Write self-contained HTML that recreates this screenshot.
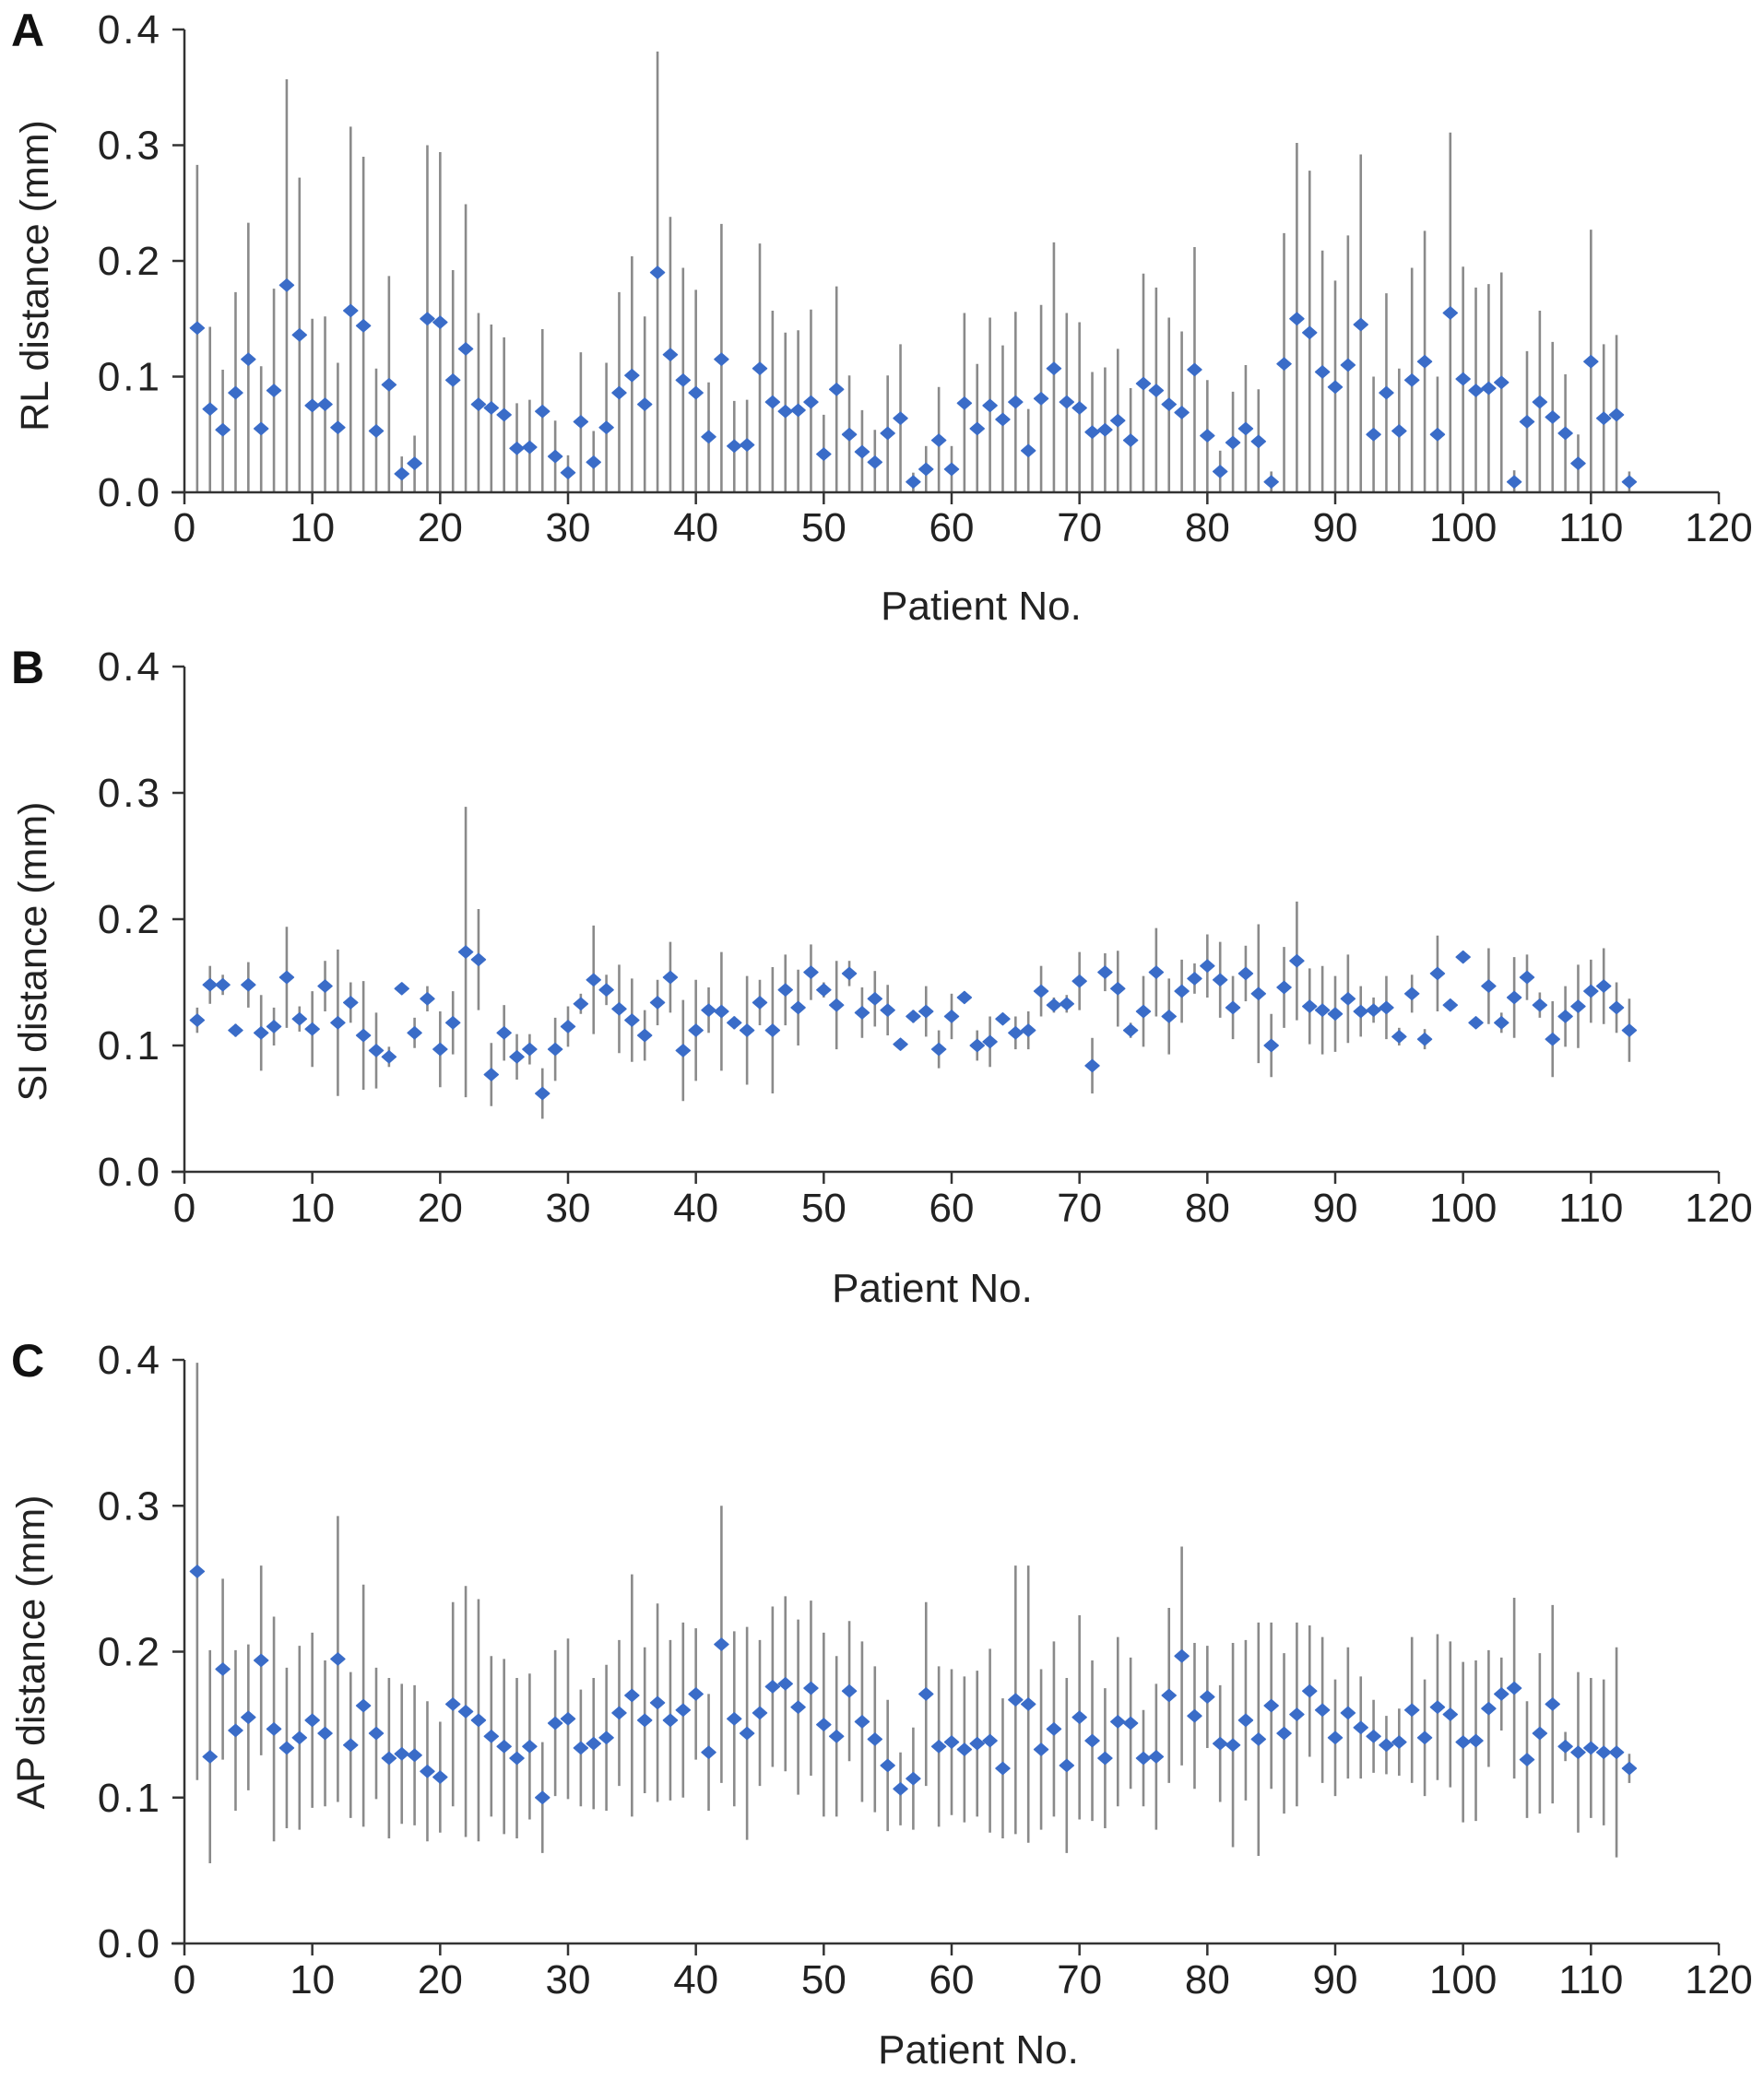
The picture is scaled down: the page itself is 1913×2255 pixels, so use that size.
<!DOCTYPE html>
<html><head><meta charset="utf-8"><style>
html,body{margin:0;padding:0;background:#fff;}
svg{display:block;font-family:"Liberation Sans",sans-serif;}
</style></head><body>
<svg id="chart" width="1913" height="2255" viewBox="0 0 1913 2255"></svg>
<script>
const patients = Array.from({length:113},(_,i)=>i+1);
const xTicks = [0,10,20,30,40,50,60,70,80,90,100,110,120];
const yTicks = [0.0,0.1,0.2,0.3,0.4];
const rlMean = [0.142,0.072,0.054,0.086,0.115,0.055,0.088,0.179,0.136,0.075,0.076,0.056,0.157,0.144,0.053,0.093,0.016,0.025,0.150,0.147,0.097,0.124,0.076,0.073,0.067,0.038,0.039,0.070,0.031,0.017,0.061,0.026,0.056,0.086,0.101,0.076,0.190,0.119,0.097,0.086,0.048,0.115,0.040,0.041,0.107,0.078,0.070,0.071,0.078,0.033,0.089,0.050,0.035,0.026,0.051,0.064,0.009,0.020,0.045,0.020,0.077,0.055,0.075,0.063,0.078,0.036,0.081,0.107,0.078,0.073,0.052,0.054,0.062,0.045,0.094,0.088,0.076,0.069,0.106,0.049,0.018,0.043,0.055,0.044,0.009,0.111,0.150,0.138,0.104,0.091,0.110,0.145,0.050,0.086,0.053,0.097,0.113,0.050,0.155,0.098,0.088,0.090,0.095,0.009,0.061,0.078,0.065,0.051,0.025,0.113,0.064,0.067,0.009];
const rlUpper = [0.283,0.143,0.106,0.173,0.233,0.109,0.176,0.357,0.272,0.150,0.152,0.112,0.316,0.290,0.107,0.187,0.031,0.049,0.300,0.294,0.192,0.249,0.155,0.145,0.134,0.077,0.080,0.141,0.062,0.032,0.121,0.053,0.112,0.173,0.204,0.152,0.381,0.238,0.194,0.175,0.095,0.232,0.079,0.080,0.215,0.157,0.138,0.140,0.158,0.067,0.178,0.101,0.071,0.054,0.101,0.128,0.017,0.040,0.091,0.040,0.155,0.111,0.151,0.127,0.156,0.072,0.162,0.216,0.155,0.147,0.104,0.108,0.124,0.090,0.189,0.177,0.151,0.139,0.212,0.097,0.036,0.087,0.110,0.089,0.018,0.224,0.302,0.278,0.209,0.183,0.222,0.292,0.100,0.172,0.107,0.194,0.226,0.100,0.311,0.195,0.177,0.180,0.190,0.019,0.122,0.157,0.130,0.102,0.050,0.227,0.128,0.136,0.018];
const siMean = [0.120,0.148,0.148,0.112,0.148,0.110,0.115,0.154,0.121,0.113,0.147,0.118,0.134,0.108,0.096,0.091,0.145,0.110,0.137,0.097,0.118,0.174,0.168,0.077,0.110,0.091,0.097,0.062,0.097,0.115,0.133,0.152,0.144,0.129,0.120,0.108,0.134,0.154,0.096,0.112,0.128,0.127,0.118,0.112,0.134,0.112,0.144,0.130,0.158,0.144,0.132,0.157,0.126,0.137,0.128,0.101,0.123,0.127,0.097,0.123,0.138,0.100,0.103,0.121,0.110,0.112,0.143,0.132,0.133,0.151,0.084,0.158,0.145,0.112,0.127,0.158,0.123,0.143,0.153,0.163,0.152,0.130,0.157,0.141,0.100,0.146,0.167,0.131,0.128,0.125,0.137,0.127,0.128,0.130,0.107,0.141,0.105,0.157,0.132,0.170,0.118,0.147,0.118,0.138,0.154,0.132,0.105,0.123,0.131,0.143,0.147,0.130,0.112];
const siErr = [0.010,0.015,0.008,0.005,0.018,0.030,0.015,0.040,0.010,0.030,0.020,0.058,0.016,0.043,0.030,0.008,0.003,0.012,0.010,0.030,0.025,0.115,0.040,0.025,0.022,0.018,0.012,0.020,0.025,0.016,0.008,0.043,0.012,0.035,0.033,0.020,0.018,0.028,0.040,0.040,0.018,0.047,0.005,0.043,0.018,0.050,0.028,0.030,0.022,0.006,0.035,0.010,0.020,0.022,0.020,0.003,0.005,0.020,0.015,0.018,0.004,0.012,0.020,0.004,0.013,0.015,0.020,0.006,0.007,0.023,0.022,0.015,0.030,0.006,0.028,0.035,0.030,0.025,0.012,0.025,0.030,0.025,0.022,0.055,0.025,0.032,0.047,0.030,0.035,0.030,0.035,0.020,0.010,0.025,0.007,0.015,0.008,0.030,0.003,0.003,0.003,0.030,0.008,0.032,0.018,0.010,0.030,0.024,0.033,0.025,0.030,0.020,0.025];
const apMean = [0.255,0.128,0.188,0.146,0.155,0.194,0.147,0.134,0.141,0.153,0.144,0.195,0.136,0.163,0.144,0.127,0.130,0.129,0.118,0.114,0.164,0.159,0.153,0.142,0.135,0.127,0.135,0.100,0.151,0.154,0.134,0.137,0.141,0.158,0.170,0.153,0.165,0.153,0.160,0.171,0.131,0.205,0.154,0.144,0.158,0.176,0.178,0.162,0.175,0.150,0.142,0.173,0.152,0.140,0.122,0.106,0.113,0.171,0.135,0.138,0.133,0.137,0.139,0.120,0.167,0.164,0.133,0.147,0.122,0.155,0.139,0.127,0.152,0.151,0.127,0.128,0.170,0.197,0.156,0.169,0.137,0.136,0.153,0.140,0.163,0.144,0.157,0.173,0.160,0.141,0.158,0.148,0.142,0.136,0.138,0.160,0.141,0.162,0.157,0.138,0.139,0.161,0.171,0.175,0.126,0.144,0.164,0.135,0.131,0.134,0.131,0.131,0.120];
const apErr = [0.143,0.073,0.062,0.055,0.050,0.065,0.077,0.055,0.063,0.060,0.050,0.098,0.050,0.083,0.045,0.055,0.048,0.048,0.048,0.038,0.070,0.086,0.083,0.055,0.060,0.055,0.050,0.038,0.050,0.055,0.040,0.045,0.050,0.050,0.083,0.050,0.068,0.055,0.060,0.045,0.040,0.095,0.060,0.073,0.050,0.055,0.060,0.060,0.060,0.063,0.055,0.048,0.055,0.050,0.045,0.025,0.035,0.063,0.055,0.050,0.050,0.050,0.063,0.048,0.092,0.095,0.055,0.060,0.060,0.070,0.055,0.048,0.058,0.045,0.033,0.050,0.060,0.075,0.050,0.035,0.040,0.070,0.055,0.080,0.057,0.055,0.063,0.045,0.050,0.040,0.045,0.035,0.025,0.020,0.023,0.050,0.040,0.050,0.050,0.055,0.055,0.040,0.025,0.062,0.040,0.055,0.068,0.010,0.055,0.048,0.050,0.072,0.010];

const NS='http://www.w3.org/2000/svg';
const svg=document.getElementById('chart');
function mk(tag,attrs,parent){const e=document.createElementNS(NS,tag);for(const k in attrs)e.setAttribute(k,attrs[k]);(parent||svg).appendChild(e);return e;}
const X0=200, XW=1664; // 0..120
function xs(v){return X0+v/120*XW;}

const panels=[
 {id:'a',letter:'A',top:32,bot:534,title:'RL distance (mm)',ttlX:37,ttlY:299,xlabY:587,pnX:1064,pnY:672,mean:rlMean,lo:(i)=>0,hi:(i)=>rlUpper[i]},
 {id:'b',letter:'B',top:723,bot:1271,title:'SI distance (mm)',ttlX:35,ttlY:1032,xlabY:1325,pnX:1011,pnY:1412,mean:siMean,lo:(i)=>siMean[i]-siErr[i],hi:(i)=>siMean[i]+siErr[i]},
 {id:'c',letter:'C',top:1475,bot:2108,title:'AP distance (mm)',ttlX:33,ttlY:1792,xlabY:2162,pnX:1061,pnY:2238,mean:apMean,lo:(i)=>apMean[i]-apErr[i],hi:(i)=>apMean[i]+apErr[i]}
];
panels.forEach(p=>{
  const g=mk('g',{});
  
  
  const ys=v=>p.bot-(v/0.4)*(p.bot-p.top);
  const L=mk('text',{x:12,y:p.top+18,'font-size':50,'font-weight':'bold',fill:'#111'},g);L.textContent=p.letter;
  
  
  patients.forEach((n,i)=>{
    const l=mk('line',{x1:xs(n),x2:xs(n),y1:ys(Math.max(0,p.lo(i))),y2:ys(p.hi(i)),stroke:'#8a8a8a','stroke-width':2.6},g);
    
    
  });
  const ya=mk('line',{x1:X0,x2:X0,y1:p.top,y2:p.bot,stroke:'#333','stroke-width':2.5},g);
  
  
  const xa=mk('line',{x1:X0-14,x2:xs(120),y1:p.bot,y2:p.bot,stroke:'#333','stroke-width':2.5},g);
  
  
  yTicks.forEach(t=>{
    mk('line',{x1:X0-13,x2:X0,y1:ys(t),y2:ys(t),stroke:'#333','stroke-width':2.5},g);
    const tx=mk('text',{x:176,y:ys(t)+15,'font-size':44,'letter-spacing':3,'text-anchor':'end',fill:'#222'},g);
    tx.textContent=t.toFixed(1);
    
    
  });
  xTicks.forEach(t=>{
    mk('line',{x1:xs(t),x2:xs(t),y1:p.bot,y2:p.bot+13,stroke:'#333','stroke-width':2.5},g);
    const tx=mk('text',{x:xs(t),y:p.xlabY,'font-size':44,'text-anchor':'middle',fill:'#222'},g);
    tx.textContent=String(t);
    
    
  });
  patients.forEach((n,i)=>{
    const cx=xs(n),cy=ys(p.mean[i]);
    const d=mk('path',{d:`M${cx-7.5},${cy} L${cx},${cy-6.5} L${cx+7.5},${cy} L${cx},${cy+6.5} Z`,fill:'#3a6cc8',stroke:'#3a6cc8','stroke-width':1.5,'stroke-linejoin':'round'},g);
    
    
  });
  const cy=p.ttlY;
  const t=mk('text',{x:p.ttlX,y:cy,'font-size':43,'text-anchor':'middle',fill:'#222',transform:`rotate(-90 ${p.ttlX} ${cy})`,dy:15},g);
  t.textContent=p.title;
  
  
  const xt=mk('text',{x:p.pnX,y:p.pnY,'font-size':44,'text-anchor':'middle',fill:'#222'},g);
  xt.textContent='Patient No.';
  
  
});
</script>
</body></html>
